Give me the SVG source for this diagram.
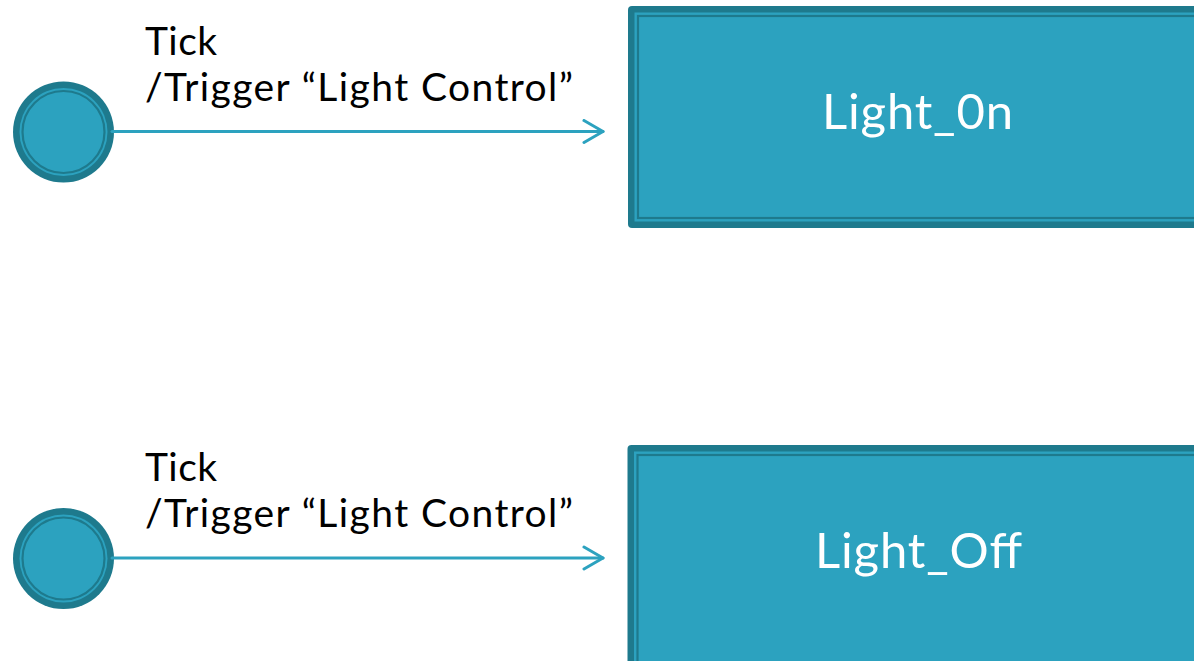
<svg xmlns="http://www.w3.org/2000/svg" width="1194" height="661" viewBox="0 0 1194 661">
  <style>
    .lbl { font-family: Lato, "Liberation Sans", sans-serif; font-size: 39px; fill: #000000; }
    .name { font-family: Lato, "Liberation Sans", sans-serif; font-size: 49px; fill: #ffffff; }
    .edge { fill: none; stroke: #2ca2bf; stroke-width: 3; stroke-linecap: round; stroke-linejoin: round; }
    .dark { fill: #1e7a8d; }
    .light { fill: #2ca2bf; }
    .ring { fill: #2ca2bf; stroke: #1e7a8d; stroke-width: 2.2; }
  </style>
  <defs>
    <marker id="open-arrow" viewBox="0 0 24 26" refX="21" refY="13" markerWidth="24" markerHeight="26" markerUnits="userSpaceOnUse" orient="auto">
      <path d="M2,2 L21,13 L2,24" fill="none" stroke="#2ca2bf" stroke-width="3" stroke-linecap="round" stroke-linejoin="round"/>
    </marker>
  </defs>
  <rect width="1194" height="661" fill="#ffffff"/>

  <!-- initial pseudo-states -->
  <g id="start-on">
    <circle cx="63.5" cy="132" r="50.5" class="dark"/>
    <circle cx="63.5" cy="132" r="44" class="light"/>
    <circle cx="63.5" cy="132" r="41" class="ring"/>
  </g>
  <g id="start-off">
    <circle cx="63.5" cy="558.5" r="50.5" class="dark"/>
    <circle cx="63.5" cy="558.5" r="44" class="light"/>
    <circle cx="63.5" cy="558.5" r="41" class="ring"/>
  </g>

  <!-- states -->
  <g id="light-on">
    <rect x="628" y="6" width="600" height="222" rx="4" class="dark"/>
    <rect x="634.5" y="12.5" width="600" height="209" class="light"/>
    <rect x="638" y="16" width="600" height="202" class="ring" stroke-width="2"/>
    <text x="822" y="128.5" class="name" textLength="191" lengthAdjust="spacing">Light_0n</text>
  </g>
  <g id="light-off">
    <rect x="627.5" y="445" width="600" height="260" rx="4" class="dark"/>
    <rect x="634" y="451.5" width="600" height="260" class="light"/>
    <rect x="637.5" y="455" width="600" height="260" class="ring" stroke-width="2"/>
    <text x="815" y="567.5" class="name" textLength="207" lengthAdjust="spacing">Light_Off</text>
  </g>

  <!-- transitions -->
  <g id="connectors">
    <line x1="112" y1="131.5" x2="603" y2="131.5" class="edge" marker-end="url(#open-arrow)"/>
    <line x1="112" y1="558" x2="603" y2="558" class="edge" marker-end="url(#open-arrow)"/>
    <text class="lbl"><tspan x="145" y="54.5" textLength="72" lengthAdjust="spacing">Tick</tspan><tspan x="145" y="100.5" textLength="428" lengthAdjust="spacing">/Trigger “Light Control”</tspan></text>
    <text class="lbl"><tspan x="145" y="480.5" textLength="72" lengthAdjust="spacing">Tick</tspan><tspan x="145" y="526.5" textLength="428" lengthAdjust="spacing">/Trigger “Light Control”</tspan></text>
  </g>
</svg>
